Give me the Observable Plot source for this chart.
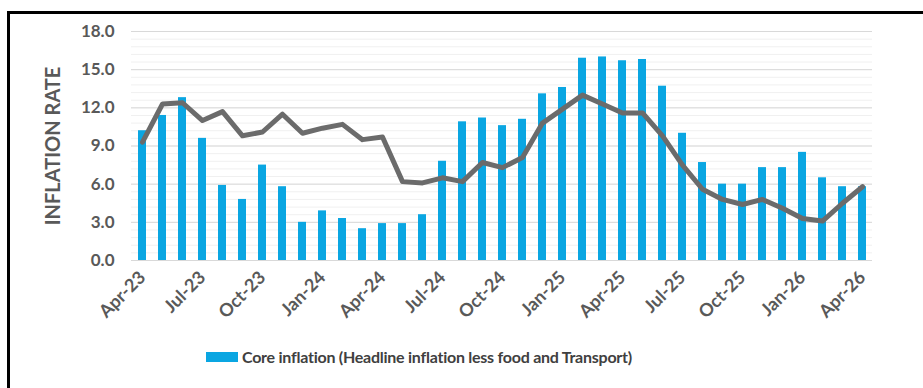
<!DOCTYPE html>
<html>
<head>
<meta charset="utf-8">
<script src="https://cdn.jsdelivr.net/npm/d3@7"></script>
<script src="https://cdn.jsdelivr.net/npm/@observablehq/plot@0.6"></script>
<style>
  html, body { margin: 0; padding: 0; background: #fff; }
  body { width: 923px; height: 388px; position: relative; overflow: hidden; font-family: Lato, "Open Sans", sans-serif; }
  #frame { position: absolute; left: 7px; top: 11px; width: 1000px; height: 500px; border-left: 3px solid #000; border-top: 3px solid #000; box-sizing: border-box; }
  #chart { position: absolute; left: 0; top: 0; }
  #legend { position: absolute; left: 206px; top: 347px; display: flex; align-items: center; font-size: 16px; letter-spacing: -0.25px; font-weight: 700; color: #404040; white-space: nowrap; }
  #legend .sw { width: 32px; height: 10px; background: #0AA6E2; margin-right: 4px; }
</style>
</head>
<body>
<div id="frame"></div>
<div id="chart"></div>
<div id="legend"><span class="sw"></span><span>Core inflation (Headline inflation less food and Transport)</span></div>
<script>
const months = ["Apr-23","May-23","Jun-23","Jul-23","Aug-23","Sep-23","Oct-23","Nov-23","Dec-23",
  "Jan-24","Feb-24","Mar-24","Apr-24","May-24","Jun-24","Jul-24","Aug-24","Sep-24","Oct-24","Nov-24","Dec-24",
  "Jan-25","Feb-25","Mar-25","Apr-25","May-25","Jun-25","Jul-25","Aug-25","Sep-25","Oct-25","Nov-25","Dec-25",
  "Jan-26","Feb-26","Mar-26","Apr-26"];
const coreInflation = [10.2,11.4,12.8,9.6,5.9,4.8,7.5,5.8,3.0,
  3.9,3.3,2.5,2.9,2.9,3.6,7.8,10.9,11.2,10.6,11.1,13.1,
  13.6,15.9,16.0,15.7,15.8,13.7,10.0,7.7,6.0,6.0,7.3,7.3,
  8.5,6.5,5.8,5.8];
const headlineInflation = [9.3,12.3,12.4,11.0,11.7,9.8,10.1,11.5,10.0,
  10.4,10.7,9.5,9.7,6.2,6.1,6.5,6.2,7.7,7.3,8.1,10.8,
  11.9,13.0,12.3,11.6,11.6,9.8,7.5,5.6,4.8,4.4,4.8,4.1,
  3.3,3.1,4.5,5.8];
const yTicks = [0, 3, 6, 9, 12, 15, 18];
const xTickLabels = months.filter((d, i) => i % 3 === 0);
const yTitle = "INFLATION RATE";

const rows = months.map((m, i) => ({month: m, core: coreInflation[i], headline: headlineInflation[i]}));
const minorGrid = d3.range(0, 18.001, 0.6);

const chart = Plot.plot({
  width: 923,
  height: 340,
  marginLeft: 131,
  marginRight: 51,
  marginTop: 31,
  marginBottom: 80,
  style: {fontFamily: "Lato, 'Open Sans', sans-serif", background: "transparent", overflow: "visible"},
  x: {type: "band", domain: months, paddingInner: 0.6, paddingOuter: 0.3, label: null},
  y: {domain: [0, 18], label: null},
  marks: [
    Plot.ruleY(minorGrid, {stroke: "#f0f0f0", strokeWidth: 1}),
    Plot.ruleY(yTicks, {stroke: "#d9d9d9", strokeWidth: 1}),
    Plot.barY(rows, {x: "month", y: "core", fill: "#0AA6E2"}),
    Plot.lineY(rows, {x: "month", y: "headline", stroke: "#6b6b6b", strokeWidth: 5, strokeLinejoin: "round", strokeLinecap: "round"}),
    Plot.axisY({ticks: yTicks, tickFormat: d3.format(".1f"), tickSize: 0, tickPadding: 17, fontSize: 17, fontWeight: 700, fill: "#595959", label: null}),
    Plot.axisX({ticks: xTickLabels, tickSize: 0, tickRotate: -45, tickPadding: 14, fontSize: 18, fontWeight: 700, fill: "#595959", label: null}),
    Plot.text([yTitle], {frameAnchor: "left", dx: -78, rotate: -90, textAnchor: "middle", fontSize: 20, fontWeight: 700, fill: "#595959", text: d => d})
  ]
});
document.getElementById("chart").appendChild(chart);
</script>
</body>
</html>
